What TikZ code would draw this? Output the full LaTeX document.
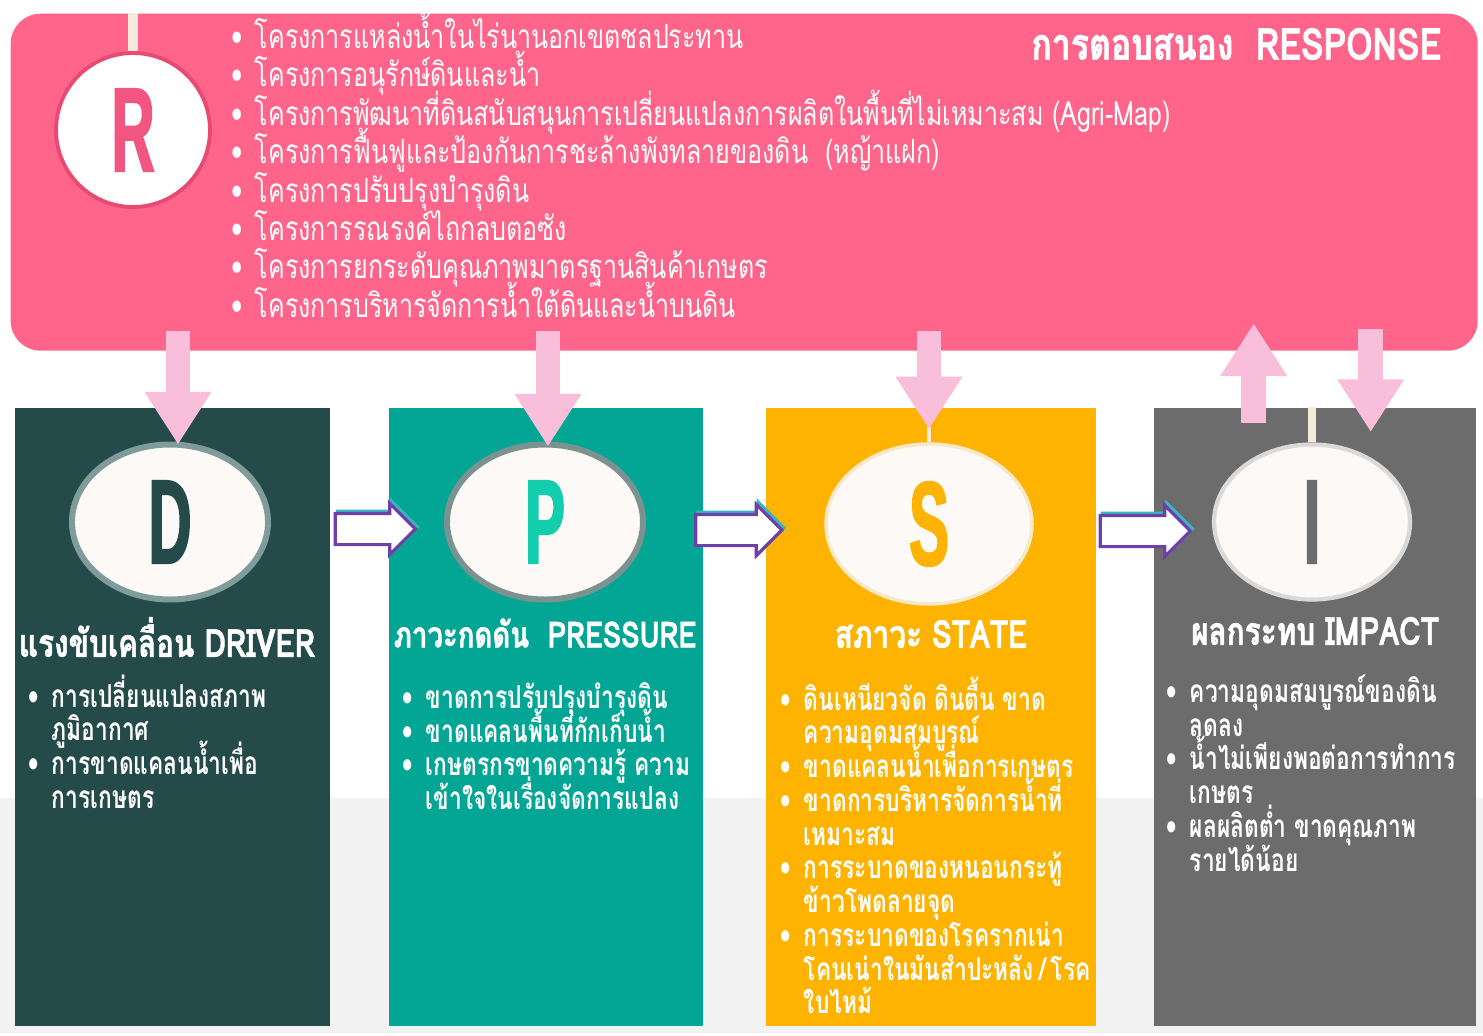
\documentclass[tikz,border=0pt]{standalone}
\usepackage{fontspec}
\usetikzlibrary{arrows.meta,shapes.geometric,shapes.arrows,calc}
\newfontfamily\thai[Script=Thai,FakeStretch=0.75]{Loma}
\newfontfamily\thailiste[Script=Thai,FakeStretch=0.72]{Loma}
\newfontfamily\thaigras[Script=Thai,FakeStretch=0.77,FakeBold=1.3]{Loma}
\newfontfamily\grossefonte[FakeStretch=0.5,FakeBold=1.5]{Liberation Sans}
\newcommand\grosse[1]{{\grossefonte\bfseries\fontsize{34}{34}\selectfont #1}}
\newcommand\puce{\makebox[6.6pt][l]{\textbullet}}
\newcommand\suite{\hspace*{6.6pt}}
\lineskiplimit=-100pt
\definecolor{rose}{HTML}{FF658A}
\definecolor{rosepale}{HTML}{F9BFDA}
\definecolor{roseborde}{HTML}{E84A72}
\definecolor{roselettre}{HTML}{F2557F}
\definecolor{vertfonce}{HTML}{244A4A}
\definecolor{vertbord}{HTML}{809C9A}
\definecolor{turquoise}{HTML}{03A694}
\definecolor{turquoiselettre}{HTML}{14CDAD}
\definecolor{jaune}{HTML}{FDB300}
\definecolor{jaunebord}{HTML}{F6E8C8}
\definecolor{gris}{HTML}{6C6C6C}
\definecolor{grisbord}{HTML}{D9D9D9}
\definecolor{grisclair}{HTML}{F2F2F2}
\definecolor{creme}{HTML}{FCF9F7}
\definecolor{tigecreme}{HTML}{F5E9DC}
\definecolor{mauve}{HTML}{6E3FA6}
\definecolor{bleuvert}{HTML}{38B6C4}
\tikzset{
  boite/.style={anchor=north west, inner sep=0pt, minimum height=61.8mm},
  bulle/.style={ellipse, fill=creme, line width=1.7pt, minimum width=19.6mm,
    minimum height=15.5mm, inner sep=0pt},
  titre/.style={text=white, inner sep=0pt, font=\thaigras\bfseries\fontsize{11}{12}\selectfont},
  liste/.style={anchor=north west, align=left, text=white, inner sep=0pt,
    font=\thailiste\bfseries\fontsize{9}{9.6}\selectfont},
  rosefleche/.style={draw=rosepale, line width=7.1pt, -{Triangle[length=15pt,width=18pt]}},
  fleche/.style={single arrow, fill=white, draw=mauve, line width=0.9pt,
    inner sep=1.4mm, minimum height=8mm, single arrow head extend=1mm,
    preaction={draw=bleuvert, line width=0.9pt, transform canvas={shift={(0.6pt,0.6pt)}}}},
  tige/.style={draw=tigecreme, line width=1pt},
}
\begin{document}
\begin{tikzpicture}[x=0.1mm,y=-0.1mm]
  \useasboundingbox (0,0) rectangle (1483,1036);
  \fill[grisclair] (0,798) rectangle (1483,1033); % bande grise
  % bandeau reponse
  \node[fill=rose, rounded corners=8.5pt, minimum width=146.7mm, minimum height=33.7mm,
    anchor=north west, inner sep=0pt] (resp) at (10,13) {};
  \node[circle, fill=white, draw=roseborde, line width=1.1pt, minimum size=15.4mm,
    inner sep=0pt, text=roselettre] (rcercle) at (133,130) {\grosse{R}};
  \draw[tige, line width=2.8pt] (rcercle.north) -- (rcercle.north |- resp.north);
  \node[anchor=east, text=white, inner sep=0pt, font=\thaigras\bfseries\fontsize{12.5}{13}\selectfont]
    (rtitre) at (1442,44) {การตอบสนอง~~RESPONSE};
  \node[anchor=north west, align=left, text=white, inner sep=0pt,
    font=\thai\fontsize{9.5}{10.95}\selectfont] (rliste) at (231,12) {%
    \rule{0pt}{9.5pt}\puce โครงการแหล่งน้ำในไร่นานอกเขตชลประทาน\\
    \puce โครงการอนุรักษ์ดินและน้ำ\\
    \puce โครงการพัฒนาที่ดินสนับสนุนการเปลี่ยนแปลงการผลิตในพื้นที่ไม่เหมาะสม (Agri-Map)\\
    \puce โครงการฟื้นฟูและป้องกันการชะล้างพังทลายของดิน~~(หญ้าแฝก)\\
    \puce โครงการปรับปรุงบำรุงดิน\\
    \puce โครงการรณรงค์ไถกลบตอซัง\\
    \puce โครงการยกระดับคุณภาพมาตรฐานสินค้าเกษตร\\
    \puce โครงการบริหารจัดการน้ำใต้ดินและน้ำบนดิน};
  % les quatre boites
  \node[boite, fill=vertfonce, minimum width=31.5mm] (dbox) at (14,407) {};
  \node[boite, fill=turquoise, minimum width=31.4mm] (pbox) at (388,407) {};
  \node[boite, fill=jaune, minimum width=33mm] (sbox) at (765,407) {};
  \node[boite, fill=gris, minimum width=32.2mm] (ibox) at (1153,407) {};
  % bulles
  \node[bulle, draw=vertbord, text=vertfonce] (dell) at (170,522) {\grosse{D}};
  \node[bulle, draw=vertbord!80!gris, text=turquoiselettre] (pell) at (545,522) {\grosse{P}};
  \node[bulle, draw=jaunebord, line width=1pt, text=jaune, minimum width=20.6mm,
    minimum height=16mm] (sell) at (929,524) {\grosse{S}};
  \node[bulle, draw=grisbord, line width=1.2pt, text=gris] (iell) at (1312,522) {\grosse{I}};
  \draw[tige] (sell.north) -- ++(0,-15);
  \draw[tige, line width=2.2pt] (iell.north) -- (iell.north |- ibox.north);
  % fleches roses
  \draw[rosefleche] ($(dell.north |- resp.south)+(8,-20)$) -- ($(dell.north)+(8,3)$);
  \draw[rosefleche] ($(pell.north |- resp.south)+(3,-20)$) -- ($(pell.north)+(3,5)$);
  \draw[rosefleche] ($(sell.north |- resp.south)+(0,-20)$) -- ($(sell.north)+(0,-13)$);
  \draw[rosefleche] ($(ibox.north)+(-61,16)$) -- ($(resp.south -| ibox.north)+(-61,-28)$);
  \draw[rosefleche] ($(resp.south -| ibox.north)+(56,-22)$) -- ($(ibox.north)+(56,25)$);
  % fleches blanches
  \node[fleche] (f1) at ($(dell)!0.5!(pell)+(10,7)$) {};
  \node[fleche, minimum height=8.6mm] (f2) at ($(pell)!0.5!(sell)+(-6,7)$) {};
  \node[fleche, minimum height=9mm] (f3) at ($(sell)!0.5!(iell)+(17,8)$) {};
  % titres
  \node[titre] (dtitre) at (167,637) {แรงขับเคลื่อน DRIVER};
  \node[titre, font=\thaigras\bfseries\fontsize{10.2}{12}\selectfont] (ptitre) at (545,633)
    {ภาวะกดดัน~~PRESSURE};
  \node[titre] (stitre) at (931,634) {สภาวะ STATE};
  \node[titre] (ititre) at (1315,631) {ผลกระทบ IMPACT};
  % listes
  \node[liste] (dliste) at (28,674) {%
    \rule{0pt}{9pt}\puce การเปลี่ยนแปลงสภาพ\\ \suite ภูมิอากาศ\\
    \puce การขาดแคลนน้ำเพื่อ\\ \suite การเกษตร};
  \node[liste] (pliste) at (402,676) {%
    \rule{0pt}{9pt}\puce ขาดการปรับปรุงบำรุงดิน\\
    \puce ขาดแคลนพื้นที่กักเก็บน้ำ\\
    \puce เกษตรกรขาดความรู้ ความ\\ \suite เข้าใจในเรื่องจัดการแปลง};
  \node[liste] (sliste) at (780,676) {%
    \rule{0pt}{9pt}\puce ดินเหนียวจัด ดินตื้น ขาด\\ \suite ความอุดมสมบูรณ์\\
    \puce ขาดแคลนน้ำเพื่อการเกษตร\\
    \puce ขาดการบริหารจัดการน้ำที่\\ \suite เหมาะสม\\
    \puce การระบาดของหนอนกระทู้\\ \suite ข้าวโพดลายจุด\\
    \puce การระบาดของโรครากเน่า\\ \suite โคนเน่าในมันสำปะหลัง\,/\,โรค\\ \suite ใบไหม้};
  \node[liste] (iliste) at (1166,670) {%
    \rule{0pt}{9pt}\puce ความอุดมสมบูรณ์ของดิน\\ \suite ลดลง\\
    \puce น้ำไม่เพียงพอต่อการทำการ\\ \suite เกษตร\\
    \puce ผลผลิตต่ำ ขาดคุณภาพ\\ \suite รายได้น้อย};
\end{tikzpicture}
\end{document}
